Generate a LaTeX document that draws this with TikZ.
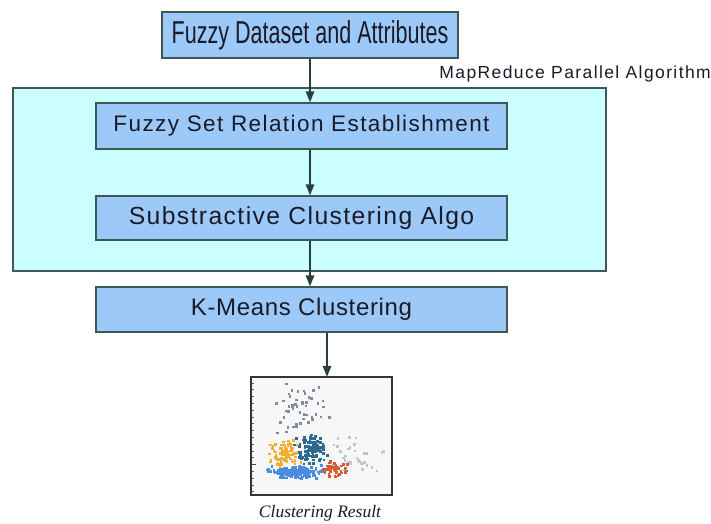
\documentclass[tikz,border=0pt]{standalone}
\usepackage{fontspec}
\setmainfont{Liberation Sans}
\newfontfamily\narrowfont[FakeStretch=0.68]{Liberation Sans}
\newfontfamily\fsrfont[LetterSpace=6.3]{Liberation Sans}
\newfontfamily\scafont[LetterSpace=5.7]{Liberation Sans}
\newfontfamily\kmfont[LetterSpace=2.7]{Liberation Sans}
\newfontfamily\mrfont[LetterSpace=8]{Liberation Sans}
\newfontfamily\capfont{Liberation Serif}
\usetikzlibrary{arrows.meta}
\definecolor{boxblue}{HTML}{9CC9F7}
\definecolor{mrcyan}{HTML}{CCFFFF}
\definecolor{edgegray}{HTML}{3E5858}
\definecolor{txt}{HTML}{1A1A28}
\definecolor{corange}{HTML}{F2AE30}
\definecolor{cblue}{HTML}{4A8CE0}
\definecolor{cteal}{HTML}{2E6A90}
\definecolor{cred}{HTML}{D55A32}
\definecolor{cgray}{HTML}{7D8CA0}
\definecolor{clight}{HTML}{C4C4C8}
\newcommand\mycluster[6]{%
  \foreach \k in {1,...,#6}{%
    \pgfmathsetmacro\px{#2+#4*(rand+rand)/2}%
    \pgfmathsetmacro\py{#3+#5*(rand+rand)/2}%
    \fill[#1] (\px-1.3,\py-1.3) rectangle (\px+1.3,\py+1.3);}}
\begin{document}
\begin{tikzpicture}[x=1pt,y=-1pt,
  stepbox/.style={draw=edgegray,line width=1.4pt,fill=boxblue,text=txt,
    minimum width=411pt,inner sep=0pt,anchor=center},
  conn/.style={draw=edgegray!70!black,line width=1.4pt,
    -{Triangle[length=11pt,width=8.5pt]}}]
\useasboundingbox (0,0) rectangle (711,523);
\fill[white] (0,0) rectangle (711,523);
% container
\node[draw=edgegray,line width=1.4pt,fill=mrcyan,minimum width=593pt,
  minimum height=183pt,inner sep=0pt] (mr) at (309.5,179.5) {};
\node[anchor=base east,text=txt,inner sep=0pt] (mrlabel) at (711,78)
  {\mrfont\fontsize{17.5}{20}\selectfont MapReduce Parallel Algorithm};
% boxes
\node[stepbox,minimum width=296pt,minimum height=46pt] (top) at (310,35)
  {\narrowfont\fontsize{31.7}{34}\selectfont Fuzzy Dataset and Attributes};
\node[stepbox,minimum height=46pt] (fsr) at (301.5,126)
  {\fsrfont\fontsize{22.5}{26}\selectfont Fuzzy Set Relation Establishment};
\node[stepbox,minimum height=44pt] (sca) at (301.5,218)
  {\scafont\fontsize{24.7}{28}\selectfont Substractive Clustering Algo};
\node[stepbox,minimum height=45pt] (km) at (301.5,309.5)
  {\kmfont\fontsize{24}{28}\selectfont K-Means Clustering};
% plot
\node[fill=black!3,minimum width=141pt,
  minimum height=118pt,inner sep=0pt] (plot) at (321.5,436) {};
\begin{scope}
  \clip (plot.north west) rectangle (plot.south east);
  \foreach \t in {0,...,16}{
    \draw[black!60,line width=0.5pt] ([yshift=-6-\t*6.8]plot.north west) -- ++(3,0);}
  \draw[black!70,line width=0.8pt] ([yshift=-88]plot.north west) -- ++(5,0);
  \pgfmathsetseed{42}
  \mycluster{cgray}{305}{410}{30}{30}{50}
  \mycluster{clight}{355}{455}{32}{20}{35}
  \mycluster{corange}{285}{453}{17}{15}{90}
  \mycluster{cteal}{311}{450}{18}{16}{110}
  \mycluster{cblue}{295}{472}{32}{7}{170}
  \mycluster{cred}{338}{469}{17}{9}{50}
\end{scope}
\draw[black!80,line width=1.6pt] (plot.north west) rectangle (plot.south east);
\node[anchor=base,text=txt,inner sep=0pt] (cap) at (320,517)
  {\capfont\itshape\fontsize{17.5}{20}\selectfont Clustering Result};
% connectors
\draw[conn] (top.south) -- (top.south |- fsr.north);
\draw[conn] (fsr.south -| top.south) -- (sca.north -| top.south);
\draw[conn] (sca.south -| top.south) -- (km.north -| top.south);
\draw[conn] ([xshift=5.5pt]plot.north |- km.south) -- ([xshift=5.5pt]plot.north);
\end{tikzpicture}
\end{document}
